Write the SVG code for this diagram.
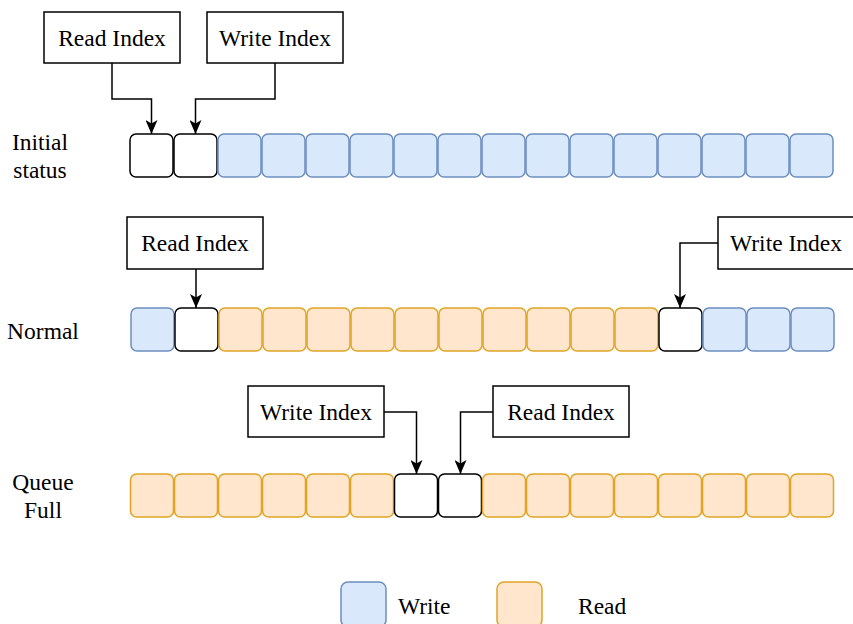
<svg xmlns="http://www.w3.org/2000/svg" width="853" height="624" viewBox="0 0 853 624">
  <style>
    text { font-size: 23.5px; fill: #000; }
    .lbl { text-anchor: middle; }
    .box { fill: #fff; stroke: #000; stroke-width: 1.5; }
    .cell { stroke-width: 1.5; }
    .w { fill: #dae8fc; stroke: #6c8ebf; }
    .r { fill: #ffe6cc; stroke: #e0a526; }
    .e { fill: #fff; stroke: #000; }
    .conn { fill: none; stroke: #000; stroke-width: 1.5; marker-end: url(#arrow); }
  </style>
  <defs>
    <marker id="arrow" viewBox="0 0 14 12" refX="14" refY="6" markerWidth="14" markerHeight="12" orient="auto" markerUnits="userSpaceOnUse">
      <path d="M0,0 L14,6 L0,12 L3.5,6 Z" fill="#000"/>
    </marker>
    <rect id="c" width="43" height="43" rx="6" ry="6"/>
  </defs>

  <g font-family="Liberation Serif, serif">
  <!-- Row labels -->
  <g id="label-initial">
    <text class="lbl" x="40" y="150">Initial</text>
    <text class="lbl" x="40" y="178">status</text>
  </g>
  <g id="label-normal">
    <text class="lbl" x="43" y="339">Normal</text>
  </g>
  <g id="label-full">
    <text class="lbl" x="43" y="490">Queue</text>
    <text class="lbl" x="43" y="518">Full</text>
  </g>

  <!-- Row 1: initial status -->
  <g id="row-initial" class="cell">
    <use href="#c" class="e" x="130" y="134"/>
    <use href="#c" class="e" x="174" y="134"/>
    <use href="#c" class="w" x="218" y="134"/>
    <use href="#c" class="w" x="262" y="134"/>
    <use href="#c" class="w" x="306" y="134"/>
    <use href="#c" class="w" x="350" y="134"/>
    <use href="#c" class="w" x="394" y="134"/>
    <use href="#c" class="w" x="438" y="134"/>
    <use href="#c" class="w" x="482" y="134"/>
    <use href="#c" class="w" x="526" y="134"/>
    <use href="#c" class="w" x="570" y="134"/>
    <use href="#c" class="w" x="614" y="134"/>
    <use href="#c" class="w" x="658" y="134"/>
    <use href="#c" class="w" x="702" y="134"/>
    <use href="#c" class="w" x="746" y="134"/>
    <use href="#c" class="w" x="790" y="134"/>
  </g>

  <!-- Row 2: normal -->
  <g id="row-normal" class="cell">
    <use href="#c" class="w" x="131" y="308"/>
    <use href="#c" class="e" x="175" y="308"/>
    <use href="#c" class="r" x="219" y="308"/>
    <use href="#c" class="r" x="263" y="308"/>
    <use href="#c" class="r" x="307" y="308"/>
    <use href="#c" class="r" x="351" y="308"/>
    <use href="#c" class="r" x="395" y="308"/>
    <use href="#c" class="r" x="439" y="308"/>
    <use href="#c" class="r" x="483" y="308"/>
    <use href="#c" class="r" x="527" y="308"/>
    <use href="#c" class="r" x="571" y="308"/>
    <use href="#c" class="r" x="615" y="308"/>
    <use href="#c" class="e" x="659" y="308"/>
    <use href="#c" class="w" x="703" y="308"/>
    <use href="#c" class="w" x="747" y="308"/>
    <use href="#c" class="w" x="791" y="308"/>
  </g>

  <!-- Row 3: queue full -->
  <g id="row-full" class="cell">
    <use href="#c" class="r" x="130.5" y="474"/>
    <use href="#c" class="r" x="174.5" y="474"/>
    <use href="#c" class="r" x="218.5" y="474"/>
    <use href="#c" class="r" x="262.5" y="474"/>
    <use href="#c" class="r" x="306.5" y="474"/>
    <use href="#c" class="r" x="350.5" y="474"/>
    <use href="#c" class="e" x="394.5" y="474"/>
    <use href="#c" class="e" x="438.5" y="474"/>
    <use href="#c" class="r" x="482.5" y="474"/>
    <use href="#c" class="r" x="526.5" y="474"/>
    <use href="#c" class="r" x="570.5" y="474"/>
    <use href="#c" class="r" x="614.5" y="474"/>
    <use href="#c" class="r" x="658.5" y="474"/>
    <use href="#c" class="r" x="702.5" y="474"/>
    <use href="#c" class="r" x="746.5" y="474"/>
    <use href="#c" class="r" x="790.5" y="474"/>
  </g>

  <!-- Index boxes -->
  <g id="read-index-1">
    <rect class="box" x="44" y="12" width="136" height="51"/>
    <text class="lbl" x="112" y="46">Read Index</text>
  </g>
  <g id="write-index-1">
    <rect class="box" x="207" y="12" width="136" height="51"/>
    <text class="lbl" x="275" y="46">Write Index</text>
  </g>
  <g id="read-index-2">
    <rect class="box" x="127" y="217" width="136" height="52"/>
    <text class="lbl" x="195" y="251">Read Index</text>
  </g>
  <g id="write-index-2">
    <rect class="box" x="718" y="217" width="136" height="52"/>
    <text class="lbl" x="786" y="251">Write Index</text>
  </g>
  <g id="write-index-3">
    <rect class="box" x="248" y="386" width="136" height="51"/>
    <text class="lbl" x="316" y="420">Write Index</text>
  </g>
  <g id="read-index-3">
    <rect class="box" x="493" y="386" width="136" height="51"/>
    <text class="lbl" x="561" y="420">Read Index</text>
  </g>

  <!-- Connectors -->
  <g id="connectors">
    <path class="conn" d="M112,63 V99 H151.5 V134"/>
    <path class="conn" d="M275,63 V99 H195.5 V134"/>
    <path class="conn" d="M196,269 V308"/>
    <path class="conn" d="M718,243 H680 V308"/>
    <path class="conn" d="M384,412 H416.5 V474"/>
    <path class="conn" d="M493,412 H460.5 V474"/>
  </g>

  <!-- Legend -->
  <g id="legend-write">
    <rect class="cell w" x="341" y="582" width="45" height="45" rx="7" ry="7"/>
    <text x="398" y="614">Write</text>
  </g>
  <g id="legend-read">
    <rect class="cell r" x="497" y="582" width="45" height="45" rx="7" ry="7"/>
    <text x="578" y="614">Read</text>
  </g>
  </g>
</svg>
